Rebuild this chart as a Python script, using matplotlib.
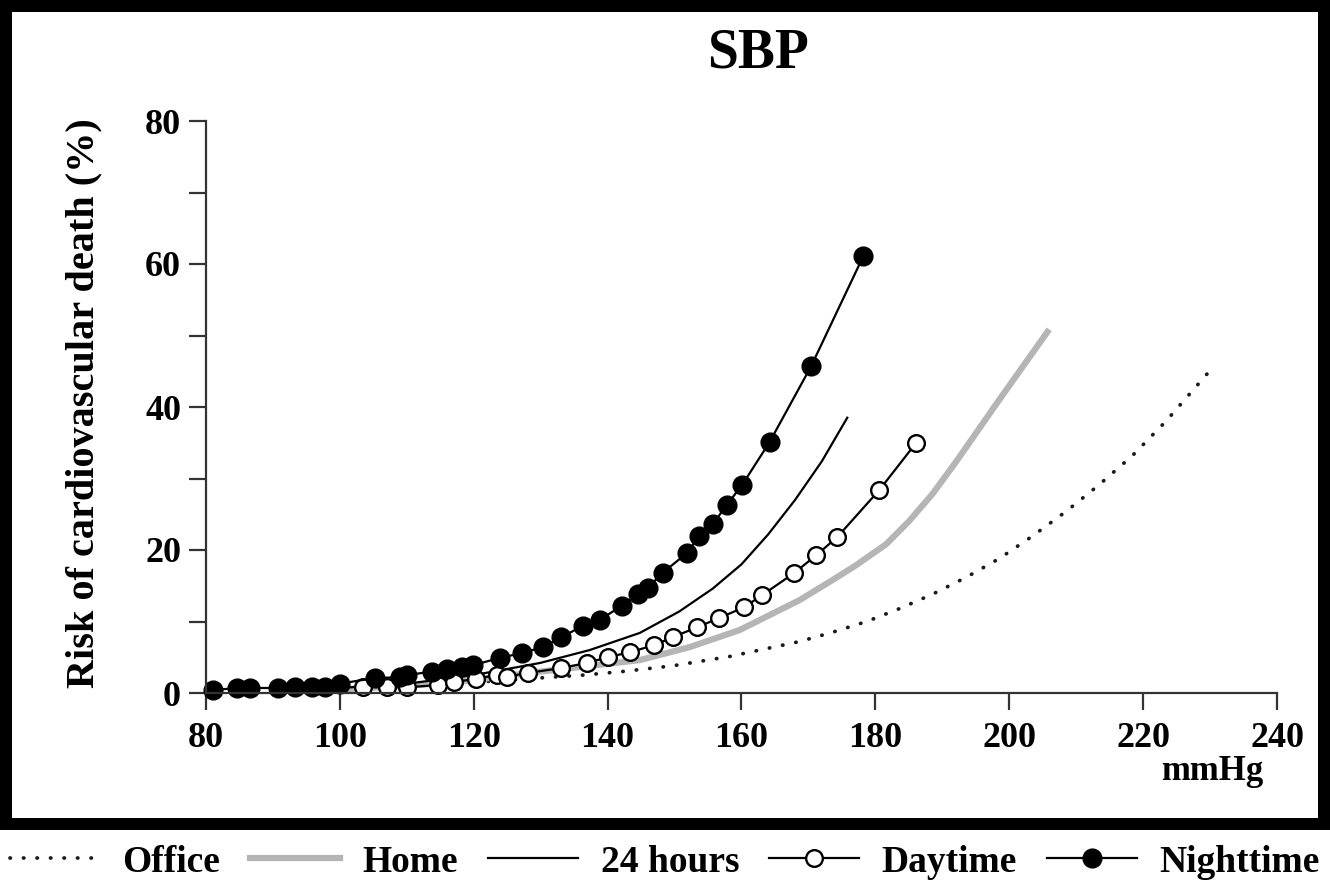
import numpy as np
import matplotlib
matplotlib.use('Agg')
import matplotlib.pyplot as plt

plt.rcParams['font.family'] = ['Liberation Serif', 'DejaVu Serif']
plt.rcParams['font.weight'] = 'bold'

# values (x in mmHg, y in % risk)
office_x = [100, 120, 136.3, 142.2, 149.7, 158.2, 168.7, 173.6, 178.7, 183.6, 188.5, 193.6, 198.5, 203.4, 208.5, 213.4, 218.4, 223.4, 229.9]
office_y = [0.6, 1.5, 2.5, 3.0, 3.8, 5.1, 7.2, 8.5, 10.0, 11.8, 13.8, 16.2, 18.8, 21.9, 25.4, 29.1, 33.2, 38.0, 45.0]

home_x = [100, 110, 120, 130, 144.8, 152.2, 159.7, 168.7, 173.6, 177.0, 181.6, 185.0, 188.5, 192.1, 198.5, 205.7]
home_y = [0.5, 1.0, 1.8, 3.0, 4.6, 6.4, 8.8, 13.0, 15.8, 17.8, 20.8, 24.0, 27.8, 32.4, 41.0, 50.5]

h24_x = [100, 110, 120, 129.9, 137.3, 144.8, 150.7, 155.7, 160.0, 164.0, 168.0, 172.0, 175.8]
h24_y = [0.7, 1.3, 2.5, 4.2, 6.0, 8.4, 11.4, 14.6, 18.0, 22.2, 27.0, 32.4, 38.5]

day_x = [103.4, 107.0, 110.0, 114.6, 117.0, 120.3, 123.4, 125.0, 128.1, 133.1, 136.9, 140.0,
         143.3, 147.0, 149.7, 153.4, 156.7, 160.4, 163.1, 167.9, 171.2, 174.3, 180.6, 186.1]
day_y = [0.9, 0.8, 0.8, 1.1, 1.5, 2.0, 2.5, 2.3, 2.8, 3.5, 4.2, 5.0,
         5.7, 6.7, 7.8, 9.2, 10.5, 12.0, 13.7, 16.8, 19.3, 21.8, 28.4, 35.0]

night_x = [81.0, 84.6, 86.6, 90.7, 93.3, 95.9, 97.8, 100.0, 105.2, 109.0, 110.1, 113.7, 116.0,
           118.2, 119.9, 123.9, 127.2, 130.3, 133.1, 136.3, 138.8, 142.1, 144.5, 146.0, 148.2,
           151.9, 153.7, 155.7, 157.8, 160.1, 164.2, 170.4, 178.2]
night_y = [0.4, 0.7, 0.7, 0.7, 0.8, 0.9, 0.9, 1.3, 2.1, 2.2, 2.5, 3.0, 3.4,
           3.6, 3.9, 4.9, 5.6, 6.4, 7.8, 9.4, 10.2, 12.2, 13.8, 14.7, 16.8,
           19.6, 22.0, 23.6, 26.3, 29.1, 35.1, 45.7, 61.1]

W, H = 1330, 893
fig = plt.figure(figsize=(W / 100, H / 100), dpi=100, facecolor='black')

# white panels: chart area and legend strip
bg = fig.add_axes([12 / W, (H - 818) / H, 1306 / W, 806 / H])
bg.set_facecolor('white')
bg.set_xticks([]); bg.set_yticks([])
for s in bg.spines.values():
    s.set_visible(False)
strip = fig.add_axes([0, 0, 1, 63 / H])
strip.set_facecolor('white')
strip.set_xticks([]); strip.set_yticks([])
for s in strip.spines.values():
    s.set_visible(False)

ax = fig.add_axes([206 / W, (H - 693) / H, 1071 / W, 572 / H])
ax.patch.set_alpha(0)

l_off, = ax.plot(office_x, office_y, color='#1a1a1a', lw=2.7, ls=(0, (0.1, 3.5)),
                 dash_capstyle='round', label='Office', clip_on=False)
l_home, = ax.plot(home_x, home_y, color='#b5b5b5', lw=4.5, label='Home', clip_on=False)
l_24, = ax.plot(h24_x, h24_y, color='black', lw=1.6, label='24 hours', clip_on=False)
l_day, = ax.plot(day_x, day_y, color='black', lw=1.6, marker='o', ms=12, mfc='white', mec='black',
                 mew=1.7, label='Daytime', clip_on=False)
l_night, = ax.plot(night_x, night_y, color='black', lw=1.6, marker='o', ms=13.5, mfc='black',
                   mec='black', label='Nighttime', clip_on=False)

ax.set_xlim(80, 240)
ax.set_ylim(0, 80)
ax.set_xticks(np.arange(80, 241, 20))
ax.set_yticks([0, 20, 40, 60, 80])
ax.set_yticks([10, 30, 50, 70], minor=True)
for side in ['top', 'right']:
    ax.spines[side].set_visible(False)
for side in ['left', 'bottom']:
    ax.spines[side].set_color('#333333')
    ax.spines[side].set_linewidth(1.6)
ax.tick_params(which='both', direction='out', length=12, width=1.6, color='#333333',
               labelsize=26, pad=6)
ax.tick_params(axis='x', pad=9)

fig.text(758 / W, 1 - 53 / H, 'SBP', ha='center', va='center', fontsize=40, fontweight='bold')
fig.text(84 / W, 1 - 403 / H, 'Risk of cardiovascular death (%)', ha='center', va='center',
         rotation=90, fontsize=29, fontweight='bold')
fig.text(1212 / W, 1 - 772 / H, 'mmHg', ha='center', va='center', fontsize=25, fontweight='bold')

fig.legend(handles=[l_off, l_home, l_24, l_day, l_night], loc='center',
           bbox_to_anchor=(0.5, 1 - 862 / H), ncol=5, frameon=False,
           prop={'family': 'Liberation Serif', 'weight': 'bold', 'size': 27},
           handlelength=2.4, handletextpad=0.6, columnspacing=0.8, numpoints=1)

fig.savefig('out.png', dpi=100, facecolor='black')
